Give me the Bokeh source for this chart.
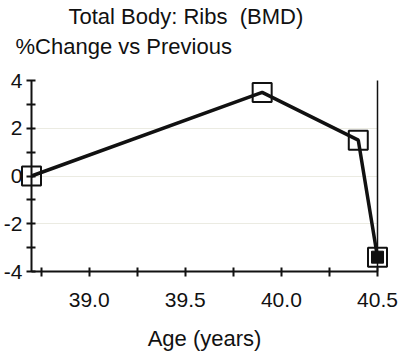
from bokeh.plotting import figure
from bokeh.models import Range1d, FixedTicker, LinearAxis, Title, NumeralTickFormatter
from bokeh.embed import file_html
from bokeh.resources import INLINE

# ---- data ----
age = [38.70, 39.90, 40.40, 40.50]
pct_change = [0.0, 3.5, 1.5, -3.4]
highlight = [False, False, False, True]

x_major = [39.0, 39.5, 40.0, 40.5]
x_minor = [38.75, 39.25, 39.75, 40.25]
y_major = [-4, -2, 0, 2, 4]
y_minor = [-3, -1, 1, 3]
y_labels = ["-4", "-2", "0", "2", "4"]

title_text = "Total Body: Ribs \u00a0(BMD)"
subtitle_text = "%Change vs Previous"
x_label = "Age (years)"

FONT = "Liberation Sans"
INK = "#111111"

p = figure(width=401, height=354, output_backend="svg", toolbar_location=None,
           title=None,
           x_range=Range1d(age[0], x_major[-1]), y_range=Range1d(y_major[0], y_major[-1]),
           min_border_left=31, min_border_right=24, min_border_top=80, min_border_bottom=83)
p.outline_line_color = None
p.background_fill_color = "white"
p.border_fill_color = "white"

p.add_layout(Title(text=subtitle_text, text_font=FONT, text_font_size="22px",
                   text_font_style="normal", text_color=INK, align="left",
                   offset=-16, standoff=44), "above")
p.add_layout(Title(text=title_text, text_font=FONT, text_font_size="22px",
                   text_font_style="normal", text_color=INK, align="left",
                   offset=37, standoff=-38), "above")

# axes
xa = p.xaxis[0]
xa.ticker = FixedTicker(ticks=x_major, minor_ticks=x_minor)
xa.formatter = NumeralTickFormatter(format="0.0")
ya = p.yaxis[0]
ya.ticker = FixedTicker(ticks=y_major, minor_ticks=y_minor)
ya.major_label_overrides = {t: s for t, s in zip(y_major, y_labels)}
for ax in (xa, ya):
    ax.axis_line_color = INK
    ax.axis_line_width = 2
    ax.major_tick_line_color = INK
    ax.major_tick_line_width = 2
    ax.minor_tick_line_color = INK
    ax.minor_tick_line_width = 2
    ax.major_tick_in = 4
    ax.major_tick_out = 5
    ax.minor_tick_in = 4
    ax.minor_tick_out = 5
    ax.major_label_text_font = FONT
    ax.major_label_text_font_size = "21px"
    ax.major_label_text_color = INK
xa.major_label_standoff = 16
ya.major_label_standoff = 4
xa.axis_label = x_label
xa.axis_label_text_font = FONT
xa.axis_label_text_font_size = "22px"
xa.axis_label_text_font_style = "normal"
xa.axis_label_text_color = INK
xa.axis_label_standoff = 16

right = LinearAxis(axis_line_color=INK, axis_line_width=1.5,
                   ticker=FixedTicker(ticks=[], minor_ticks=[]),
                   major_tick_line_color=None, minor_tick_line_color=None)
p.add_layout(right, "right")

p.xgrid.visible = False
p.ygrid.grid_line_color = "#ebebe2"
p.ygrid.grid_line_width = 1

# markers (hollow squares), line on top, filled marker for highlighted point
p.scatter(age, pct_change, marker="square", size=19, fill_color=None,
          line_color=INK, line_width=2, level="overlay")
p.line(age, pct_change, line_color=INK, line_width=3.5, level="overlay")
hx = [a for a, h in zip(age, highlight) if h]
hy = [v for v, h in zip(pct_change, highlight) if h]
p.scatter(hx, hy, marker="square", size=12, fill_color=INK, line_color=INK,
          line_width=1, level="overlay")

open("out.html", "w").write(file_html(p, INLINE))
